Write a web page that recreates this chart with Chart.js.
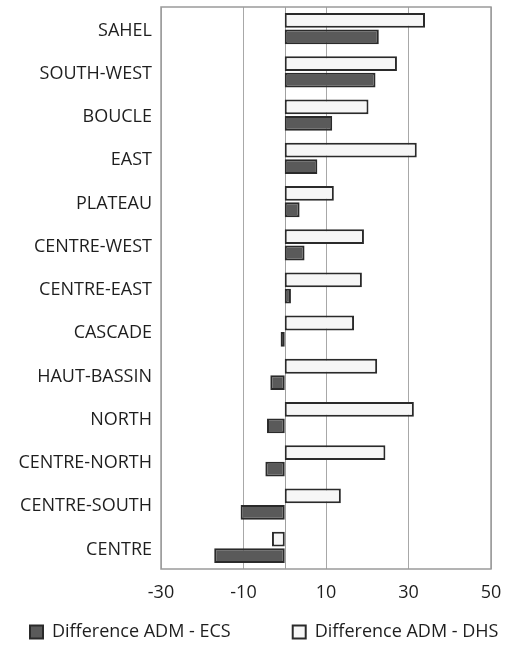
<!DOCTYPE html>
<html>
<head>
<meta charset="utf-8">
<script src="https://cdn.jsdelivr.net/npm/chart.js@4/dist/chart.umd.min.js"></script>
<style>
  html, body { margin: 0; padding: 0; background: #ffffff; }
  canvas { display: block; }
</style>
</head>
<body>
<canvas id="chart" width="510" height="647"></canvas>
<script>
// Regions, top to bottom
const regions = [
  "SAHEL", "SOUTH-WEST", "BOUCLE", "EAST", "PLATEAU", "CENTRE-WEST",
  "CENTRE-EAST", "CASCADE", "HAUT-BASSIN", "NORTH", "CENTRE-NORTH",
  "CENTRE-SOUTH", "CENTRE"
];
// Difference ADM - ECS
const diffEcs = [22.8, 22, 11.5, 7.9, 3.6, 4.8, 1.5, -1, -3.5, -4.3, -4.7, -10.7, -17.1];
// Difference ADM - DHS
const diffDhs = [34, 27.2, 20.3, 32, 11.9, 19.2, 18.7, 16.8, 22.4, 31.3, 24.4, 13.6, -3.1];
// Value axis
const xMin = -30, xMax = 50, xStep = 20;

const FONT = "'Open Sans', 'Noto Sans', sans-serif";
const TEXT = "#1e1e1e";
const LEGEND_GAP = 62;

// Frame round the plot area, the vertical line at zero, legend placement
const framePlugin = {
  id: "frame",
  afterLayout(chart) {
    // one legend row under the axis labels, starting near the left edge
    const lg = chart.legend;
    lg.left = 30 - LEGEND_GAP;
    lg.right = 640;
    lg.top = 623 - LEGEND_GAP;
  },
  beforeDatasetsDraw(chart) {
    const { ctx, chartArea: a, scales } = chart;
    ctx.save();
    ctx.strokeStyle = "#9a9a9a";
    ctx.lineWidth = 1.5;
    ctx.strokeRect(a.left, a.top, a.right - a.left, a.bottom - a.top);
    const x0 = Math.round(scales.x.getPixelForValue(0)) + 0.5;
    ctx.strokeStyle = "#a0a0a0";
    ctx.lineWidth = 1;
    ctx.beginPath();
    ctx.moveTo(x0, a.top);
    ctx.lineTo(x0, a.bottom);
    ctx.stroke();
    ctx.restore();
  }
};

new Chart(document.getElementById("chart"), {
  type: "bar",
  data: {
    labels: regions,
    datasets: [
      {
        label: "Difference ADM - DHS",
        data: diffDhs,
        backgroundColor: "#f6f6f6",
        borderColor: "#2a2a2a",
        borderWidth: 2,
        borderSkipped: false
      },
      {
        label: "Difference ADM - ECS",
        data: diffEcs,
        backgroundColor: "#5a5a5a",
        borderColor: "#2a2a2a",
        borderWidth: 2,
        borderSkipped: false
      }
    ]
  },
  options: {
    indexAxis: "y",
    responsive: false,
    animation: false,
    devicePixelRatio: 1,
    layout: { padding: { left: 0, right: 19, top: 7, bottom: 0 } },
    datasets: {
      bar: { categoryPercentage: 0.76, barPercentage: 0.9 }
    },
    scales: {
      x: {
        min: xMin,
        max: xMax,
        ticks: {
          stepSize: xStep,
          color: TEXT,
          font: { family: FONT, size: 18 },
          padding: 13
        },
        grid: {
          color: "#a8a8a8",
          lineWidth: 1,
          drawTicks: false
        },
        border: { display: false },
        afterFit(scale) {
          scale.height = 38;
          scale.paddingLeft = 0;
          scale.paddingRight = 0;
        }
      },
      y: {
        ticks: {
          color: TEXT,
          font: { family: FONT, size: 18 },
          padding: 9,
          labelOffset: 2,
          autoSkip: false
        },
        grid: { display: false, drawTicks: false },
        border: { display: false },
        afterFit(scale) {
          scale.width = 161;
          scale.paddingTop = 0;
          scale.paddingBottom = 0;
        }
      }
    },
    plugins: {
      legend: {
        position: "bottom",
        align: "start",
        reverse: true,
        maxHeight: 40,
        labels: {
          color: TEXT,
          font: { family: FONT, size: 18 },
          boxWidth: 13,
          boxHeight: 13,
          padding: LEGEND_GAP
        }
      },
      tooltip: { enabled: false }
    }
  },
  plugins: [framePlugin]
});
</script>
</body>
</html>
